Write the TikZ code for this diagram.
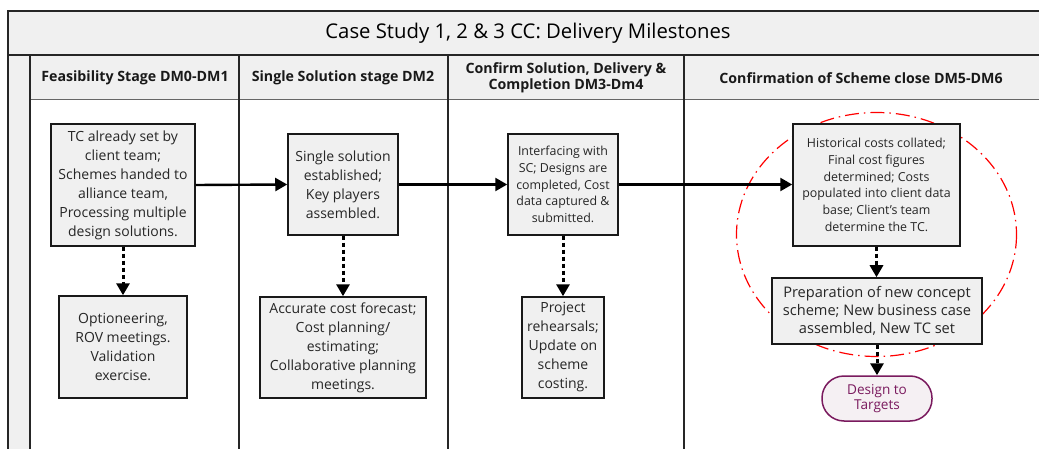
\documentclass[tikz,border=0pt]{standalone}
\usepackage{fontspec}
\setmainfont{Open Sans}
\usetikzlibrary{arrows.meta,shapes.geometric}
\definecolor{bandgray}{HTML}{F0F0F0}
\definecolor{boxgray}{HTML}{F0F0F0}
\definecolor{dtt}{HTML}{7A1A5E}
\definecolor{dttfill}{HTML}{F5F0F3}
\tikzset{
  frameline/.style={line width=1.6pt, draw=black!85},
  procbox/.style={draw=black!90, line width=1.5pt, fill=boxgray, align=center, inner sep=2pt, text=black!85},
  mainflow/.style={line width=2.4pt, -{Triangle[length=12pt,width=13pt]}},
  subflow/.style={line width=3pt, dash pattern=on 4pt off 3pt, -{Triangle[length=12pt,width=13pt]}},
  headtxt/.style={font=\fontsize{14.2}{16.5}\selectfont\bfseries, align=center, text=black!90},
  bigtxt/.style={font=\fontsize{14}{19}\selectfont},
  smalltxt/.style={font=\fontsize{12.4}{16.7}\selectfont},
}
\begin{document}
\begin{tikzpicture}[x=1pt,y=-1pt]
\useasboundingbox (0,0) rectangle (1039,449);
% bands
\fill[bandgray] (8,11) rectangle (1039,55);
\fill[bandgray] (30,55) rectangle (1039,100);
\fill[bandgray] (8,55) rectangle (30,449);
% frame lines
\draw[frameline] (1039,11) -- (8,11) -- (8,449);
\draw[frameline] (8,55) -- (1039,55);
\draw[line width=1pt, draw=black!60] (30,100) -- (1039,100);
\foreach \xx in {30,239,448,684} \draw[frameline] (\xx,55) -- (\xx,449);
% title
\node[font=\fontsize{20.3}{24}\selectfont, text=black] (title) at (528,33) {Case Study 1, 2 \& 3 CC: Delivery Milestones};
% headers
\node[headtxt] (h1) at (135,78) {Feasibility Stage DM0-DM1};
\node[headtxt] (h2) at (343,78) {Single Solution stage DM2};
\node[headtxt] (h3) at (566,78) {Confirm Solution, Delivery \&\\Completion DM3-Dm4};
\node[headtxt] (h4) at (861,78) {Confirmation of Scheme close DM5-DM6};
% red ellipse
\draw[red, line width=1.2pt, dash pattern=on 14pt off 5pt on 1.5pt off 5pt] (876.5,234.5) ellipse [x radius=140, y radius=122];
% boxes
\node[procbox, bigtxt, minimum width=144pt, minimum height=122pt] (b1) at (123,185)
  {TC already set by\\client team;\\Schemes handed to\\alliance team,\\Processing multiple\\design solutions.};
\node[procbox, bigtxt, minimum width=128pt, minimum height=102pt] (b2) at (123,347)
  {Optioneering,\\ROV meetings.\\Validation\\exercise.};
\node[procbox, bigtxt, minimum width=110pt, minimum height=101pt] (b3) at (343,184.5)
  {Single solution\\established;\\Key players\\assembled.};
\node[procbox, bigtxt, minimum width=166pt, minimum height=101pt] (b4) at (343,347.5)
  {Accurate cost forecast;\\Cost planning/\\estimating;\\Collaborative planning\\meetings.};
\node[procbox, smalltxt, minimum width=110pt, minimum height=101pt] (b5) at (563,184.5)
  {Interfacing with\\SC; Designs are\\completed, Cost\\data captured \&\\submitted.};
\node[procbox, bigtxt, minimum width=82pt, minimum height=101pt] (b6) at (563,347.5)
  {Project\\rehearsals;\\Update on\\scheme\\costing.};
\node[procbox, smalltxt, minimum width=167pt, minimum height=122pt] (b7) at (876.5,185)
  {Historical costs collated;\\Final cost figures\\determined; Costs\\populated into client data\\base; Client’s team\\determine the TC.};
\node[procbox, font=\fontsize{14.6}{18.3}\selectfont, minimum width=210pt, minimum height=66pt] (b8) at (877,311)
  {Preparation of new concept\\scheme; New business case\\assembled, New TC set};
\node[draw=dtt, line width=1.5pt, fill=dttfill, text=dtt, rounded corners=22pt, align=center,
  font=\fontsize{13.6}{15.5}\selectfont, minimum width=110pt, minimum height=45pt, inner sep=1pt] (b9) at (877,398.5)
  {Design to\\Targets};
% connectors
\draw[mainflow] (b1.east) -- (b3.west);
\draw[mainflow] (b3.east) -- (b5.west);
\draw[mainflow] (b5.east) -- (b5.east -| b7.west);
\draw[subflow] (b1.south) -- (b2.north);
\draw[subflow] (b3.south) -- (b4.north);
\draw[subflow] (b5.south) -- (b6.north);
\draw[subflow] (b7.south) -- (b7.south |- b8.north);
\draw[subflow] (b8.south) -- (b8.south |- b9.north);
\end{tikzpicture}
\end{document}
